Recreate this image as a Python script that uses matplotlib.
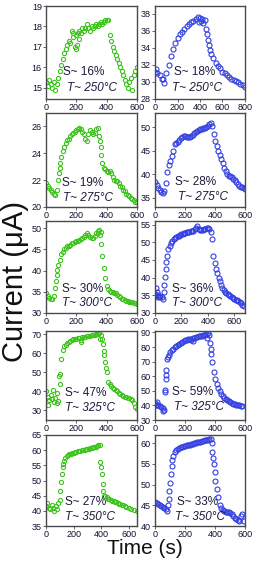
import matplotlib
matplotlib.use('Agg')
import matplotlib.pyplot as plt

plt.rcParams['font.family'] = ['Liberation Sans', 'DejaVu Sans']

GREEN = '#3ec41e'
BLUE = '#3340e0'
TEXT = '#1c1c3c'

# ---- panel data (time in s, current in uA) ----
# 250 C, left
t_250a = [0, 10, 20, 30, 40, 50, 60, 70, 80, 90, 100, 110, 120, 130, 140, 150, 160, 170, 180, 190,
          200, 210, 220, 230, 240, 250, 260, 270, 280, 290, 300, 310, 320, 330, 340, 350, 360, 370,
          380, 390, 400, 410, 420, 430, 440, 450, 460, 470, 480, 490, 500, 510, 520, 530, 540, 550,
          560, 570, 580, 590, 600, 175, 195, 205, 215]
i_250a = [15.3, 15.1, 15.4, 15.2, 15.0, 15.3, 14.9, 15.2, 15.5, 15.8, 16.1, 16.4, 16.7, 16.9, 17.1,
          17.3, 17.2, 17.8, 17.5, 17.0, 17.6, 17.7, 17.8, 17.7, 17.9, 17.8, 17.9, 18.1, 17.9, 17.8,
          18.0, 17.9, 18.0, 18.1, 18.0, 18.1, 18.2, 18.1, 18.2, 18.3, 18.3, 18.3, 17.6, 17.3, 17.0,
          16.8, 16.6, 16.4, 16.2, 16.0, 15.8, 15.6, 15.4, 15.2, 15.0, 15.3, 15.5, 14.9, 15.6, 15.8,
          16.0, 17.7, 16.9, 17.1, 17.4]
# 250 C, right
t_250b = [0, 20, 40, 60, 80, 100, 120, 140, 160, 180, 200, 220, 240, 260, 280, 300, 320, 340, 360,
          380, 400, 420, 440, 460, 480, 500, 520, 540, 560, 580, 600, 620, 640, 660, 680, 700, 720,
          740, 760, 780, 800, 390, 410, 430, 455, 470, 490, 10, 70]
i_250b = [31.2, 31.0, 30.8, 30.4, 29.9, 31.0, 32.0, 33.0, 33.9, 34.6, 35.2, 35.6, 35.9, 36.2, 36.5,
          36.8, 37.0, 37.2, 37.4, 37.6, 37.5, 37.4, 37.3, 35.6, 34.3, 33.3, 32.8, 32.2, 31.9, 31.6,
          31.2, 31.0, 30.8, 30.6, 30.4, 30.2, 30.1, 30.0, 29.8, 29.6, 29.4, 37.0, 37.1, 36.9, 36.2,
          34.9, 33.8, 31.5, 30.3]
# 275 C, left
t_275a = [0, 10, 20, 30, 40, 50, 60, 70, 80, 90, 100, 110, 120, 130, 140, 150, 160, 170, 180, 190,
          200, 210, 220, 230, 240, 250, 260, 270, 280, 290, 300, 310, 320, 330, 340, 350, 360, 370,
          380, 390, 400, 410, 420, 430, 440, 450, 460, 470, 480, 490, 500, 510, 520, 530, 540, 550,
          560, 570, 580, 590, 600, 85, 95, 355, 365]
i_275a = [21.8, 21.6, 21.4, 21.3, 21.1, 21.0, 20.9, 21.3, 22.0, 22.9, 23.7, 24.2, 24.5, 24.8, 25.0,
          25.1, 25.3, 25.4, 25.5, 25.6, 25.7, 25.8, 25.9, 25.8, 25.6, 25.4, 25.1, 24.9, 25.4, 25.7,
          25.6, 25.4, 25.5, 25.8, 25.9, 25.3, 24.5, 23.3, 22.9, 22.8, 22.7, 22.6, 22.7, 22.5, 22.2,
          22.0, 21.9, 21.9, 21.8, 21.6, 21.5, 21.3, 21.2, 21.0, 20.9, 20.8, 20.7, 20.6, 20.5, 20.4,
          20.4, 22.5, 23.3, 24.9, 23.9]
# 275 C, right
t_275b = [0, 10, 20, 30, 40, 50, 60, 70, 80, 90, 100, 110, 120, 130, 140, 150, 160, 170, 180, 190,
          200, 210, 220, 230, 240, 250, 260, 270, 280, 290, 300, 310, 320, 330, 340, 350, 360, 370,
          380, 390, 400, 410, 420, 430, 440, 450, 460, 470, 480, 490, 500, 510, 520, 530, 540, 550,
          560, 570, 580, 590, 600]
i_275b = [38.3, 37.7, 37.1, 36.6, 36.2, 36.0, 36.5, 38.2, 40.5, 42.0, 42.8, 43.8, 45.0, 46.4, 46.7,
          46.9, 47.2, 47.6, 47.9, 48.1, 48.2, 48.0, 47.8, 47.9, 48.1, 48.4, 48.7, 48.9, 49.1, 49.4,
          49.6, 49.7, 49.8, 49.9, 50.0, 50.2, 50.6, 50.9, 50.3, 48.6, 47.0, 46.0, 45.0, 44.1, 43.2,
          42.3, 41.4, 40.6, 40.1, 39.7, 39.5, 39.3, 39.0, 38.7, 38.3, 37.8, 37.5, 37.3, 37.2, 37.0,
          36.8]
# 300 C, left
t_300a = [0, 10, 20, 30, 40, 50, 60, 70, 80, 90, 100, 110, 120, 130, 140, 150, 160, 170, 180, 190,
          200, 210, 220, 230, 240, 250, 260, 270, 280, 290, 300, 310, 320, 330, 340, 350, 360, 370,
          380, 390, 400, 410, 420, 430, 440, 450, 460, 470, 480, 490, 500, 510, 520, 530, 540, 550,
          560, 570, 580, 590, 600, 345, 355, 362, 65, 75]
i_300a = [34.8, 34.0, 33.5, 33.2, 33.2, 33.9, 36.0, 39.0, 41.3, 42.6, 43.8, 44.5, 45.0, 45.4, 45.7,
          45.9, 46.1, 46.4, 46.6, 46.8, 47.0, 47.1, 47.2, 47.4, 47.7, 48.0, 48.4, 48.8, 48.5, 48.0,
          47.7, 47.8, 48.2, 48.8, 49.3, 49.6, 46.2, 43.5, 40.6, 38.3, 36.4, 35.6, 35.2, 35.0, 34.9,
          34.7, 34.6, 34.3, 34.0, 33.7, 33.4, 33.2, 33.0, 32.9, 32.8, 32.7, 32.6, 32.5, 32.4, 32.3,
          32.2, 48.8, 48.5, 49.0, 37.5, 40.2]
# 300 C, right
t_300b = [0, 10, 20, 30, 40, 50, 60, 70, 80, 90, 100, 110, 120, 130, 140, 150, 160, 170, 180, 190,
          200, 210, 220, 230, 240, 250, 260, 270, 280, 290, 300, 310, 320, 330, 340, 350, 360, 370,
          380, 390, 400, 410, 420, 430, 440, 450, 460, 470, 480, 490, 500, 510, 520, 530, 540, 550,
          560, 570, 580, 590, 600, 610, 620, 630, 640, 650, 660, 670, 5, 15, 25, 65, 75, 85]
i_300b = [35.5, 34.8, 34.6, 34.7, 34.5, 34.4, 34.0, 38.0, 42.5, 46.0, 48.0, 49.0, 49.8, 50.4, 50.8,
          51.1, 51.4, 51.7, 51.9, 52.1, 52.3, 52.4, 52.6, 52.7, 52.8, 52.9, 53.0, 53.1, 53.2, 53.3,
          53.6, 54.0, 54.5, 53.8, 53.5, 53.4, 53.5, 53.7, 53.8, 53.9, 53.9, 53.6, 53.0, 50.8, 46.0,
          44.0, 42.5, 41.3, 40.0, 39.0, 38.0, 37.2, 36.5, 36.0, 35.6, 35.3, 35.0, 34.7, 34.5, 34.2,
          34.0, 33.8, 33.6, 33.4, 33.2, 32.8, 32.2, 31.9, 37.0, 36.0, 35.2, 36.0, 40.2, 44.5]
# 325 C, left
t_325a = [0, 10, 20, 30, 40, 50, 60, 70, 80, 90, 95, 100, 110, 120, 130, 140, 150, 160, 170, 180,
          190, 200, 210, 220, 230, 240, 250, 260, 270, 280, 290, 300, 310, 320, 330, 340, 350, 360,
          370, 380, 390, 400, 410, 420, 430, 440, 450, 460, 470, 480, 490, 500, 510, 520, 530, 540,
          550, 560, 570, 580, 590, 600, 15, 45, 75, 85, 375, 385, 395, 230, 355]
i_325a = [40.0, 37.0, 35.5, 38.0, 36.0, 34.5, 36.5, 39.0, 35.0, 44.0, 49.0, 57.0, 61.5, 63.5, 64.5,
          65.3, 66.0, 66.5, 66.8, 67.2, 67.5, 67.3, 67.8, 68.0, 67.0, 68.2, 68.4, 68.6, 68.8, 69.0,
          69.0, 69.3, 69.5, 69.6, 69.8, 70.0, 70.3, 69.5, 67.5, 61.0, 55.5, 50.0, 45.0, 44.0, 43.0,
          42.0, 41.2, 40.6, 40.0, 39.3, 38.8, 38.3, 37.8, 37.3, 37.0, 36.6, 36.3, 36.0, 35.3, 34.0,
          32.0, 30.5, 33.0, 40.5, 34.0, 48.0, 65.0, 59.0, 52.0, 66.0, 67.5]
# 325 C, right
t_325b = [0, 10, 20, 30, 40, 50, 60, 65, 70, 75, 80, 90, 100, 110, 120, 130, 140, 150, 160, 170,
          180, 190, 200, 210, 220, 230, 240, 250, 260, 270, 280, 290, 300, 310, 320, 330, 340, 350,
          360, 365, 370, 375, 380, 390, 400, 410, 420, 430, 440, 450, 460, 470, 480, 490, 500, 510,
          520, 530, 540, 550, 560, 570, 580, 68, 72, 85, 5, 15, 55, 250, 345]
i_325b = [41.5, 40.5, 40.0, 39.5, 39.0, 38.0, 37.0, 49.0, 58.0, 64.0, 72.0, 74.5, 76.5, 78.0, 79.0,
          80.0, 80.8, 81.5, 82.0, 82.8, 83.5, 84.0, 84.5, 85.0, 85.4, 85.8, 85.0, 86.2, 86.5, 86.8,
          87.0, 87.3, 87.6, 87.8, 88.2, 88.5, 88.8, 89.5, 88.0, 83.0, 79.0, 75.0, 70.0, 63.0, 58.0,
          55.0, 52.0, 50.0, 48.0, 46.5, 45.3, 44.3, 43.5, 42.8, 42.0, 41.5, 41.0, 40.7, 40.4, 40.2,
          40.0, 39.8, 39.6, 50.5, 61.0, 73.5, 40.0, 42.0, 36.5, 84.0, 86.5]
# 350 C, left
t_350a = [0, 10, 20, 30, 40, 50, 60, 70, 80, 90, 100, 105, 110, 115, 120, 125, 130, 140, 150, 160,
          170, 180, 190, 200, 210, 220, 230, 240, 250, 260, 270, 280, 290, 300, 310, 320, 330, 340,
          350, 360, 370, 380, 390, 395, 400, 405, 410, 415, 420, 440, 460, 480, 500, 520, 540, 560,
          580, 600, 620, 640, 660, 430, 450, 470, 490, 510, 530, 550, 570]
i_350a = [41.5, 42.5, 41.0, 40.5, 42.0, 41.0, 40.0, 41.5, 40.5, 42.5, 43.5, 46.5, 49.5, 52.0, 54.5,
          55.5, 56.5, 57.5, 58.0, 58.4, 58.7, 58.9, 59.1, 59.2, 59.4, 59.5, 59.6, 59.7, 59.8, 59.9,
          60.0, 60.1, 60.3, 60.4, 60.5, 60.7, 60.8, 60.9, 61.1, 61.2, 61.4, 61.6, 61.7, 56.0, 54.5,
          52.0, 49.0, 46.5, 45.0, 44.4, 43.9, 43.4, 43.0, 42.6, 42.2, 41.8, 41.4, 41.0, 40.6, 40.2,
          39.8, 44.8, 44.0, 43.7, 43.2, 42.8, 42.4, 42.0, 41.6]
# 350 C, right
t_350b = [0, 10, 20, 30, 40, 50, 60, 70, 80, 85, 90, 95, 100, 105, 110, 115, 120, 130, 140, 150,
          160, 170, 180, 190, 200, 210, 220, 230, 240, 250, 260, 270, 280, 290, 300, 310, 320, 330,
          340, 350, 360, 370, 378, 383, 388, 393, 398, 403, 410, 420, 430, 440, 450, 460, 470, 480,
          490, 500, 510, 520, 530, 540, 550, 560, 570, 580, 590]
i_350b = [45.7, 45.5, 45.3, 45.1, 44.9, 44.6, 44.3, 44.0, 43.6, 45.0, 46.5, 48.5, 50.5, 52.5, 54.5,
          56.0, 57.0, 57.8, 58.3, 58.6, 58.8, 59.0, 59.2, 59.3, 59.4, 59.5, 59.6, 59.7, 59.8, 59.9,
          60.0, 60.1, 60.2, 60.3, 60.4, 60.5, 60.6, 60.7, 60.8, 60.9, 61.0, 61.1, 60.0, 58.0, 56.5,
          55.0, 53.0, 51.0, 49.0, 47.0, 45.0, 44.3, 43.9, 43.6, 43.5, 43.4, 43.3, 43.2, 43.0, 42.5,
          42.0, 41.7, 41.5, 41.3, 42.5, 42.8, 41.2]

s_labels = ['S~ 16%', 'S~ 18%', 'S~ 19%', 'S~ 28%', 'S~ 30%',
            'S~ 36%', 'S~ 47%', 'S~ 59%', 'S~ 27%', 'S~ 33%']
temps = ['250', '250', '275', '275', '300', '300', '325', '325', '350', '350']

panels = [
    (t_250a, i_250a, GREEN, (0, 600), (14.45, 19), [0, 200, 400, 600], [15, 16, 17, 18, 19]),
    (t_250b, i_250b, BLUE, (0, 800), (28, 38.9), [0, 200, 400, 600, 800], [28, 30, 32, 34, 36, 38]),
    (t_275a, i_275a, GREEN, (0, 600), (20, 27), [0, 200, 400, 600], [20, 22, 24, 26]),
    (t_275b, i_275b, BLUE, (0, 600), (33, 53), [0, 200, 400, 600], [35, 40, 45, 50]),
    (t_300a, i_300a, GREEN, (0, 600), (30, 51.7), [0, 200, 400, 600], [30, 35, 40, 45, 50]),
    (t_300b, i_300b, BLUE, (0, 680), (30, 56), [0, 200, 400, 600], [30, 35, 40, 45, 50, 55]),
    (t_325a, i_325a, GREEN, (0, 600), (25, 71.6), [0, 200, 400, 600], [30, 40, 50, 60, 70]),
    (t_325b, i_325b, BLUE, (0, 600), (30, 91), [0, 200, 400, 600], [30, 40, 50, 60, 70, 80, 90]),
    (t_350a, i_350a, GREEN, (0, 660), (35, 65), [0, 200, 400, 600], [35, 40, 45, 50, 55, 60, 65]),
    (t_350b, i_350b, BLUE, (0, 600), (40, 62), [0, 200, 400, 600], [40, 45, 50, 55, 60]),
]

# text positions (axes fraction) for S and T labels
s_pos = [(0.19, 0.29), (0.21, 0.29), (0.18, 0.25), (0.22, 0.27), (0.18, 0.26),
         (0.19, 0.26), (0.21, 0.30), (0.19, 0.31), (0.21, 0.26), (0.24, 0.26)]
t_pos = [(0.23, 0.12), (0.19, 0.12), (0.19, 0.10), (0.25, 0.11), (0.18, 0.11),
         (0.19, 0.11), (0.21, 0.13), (0.21, 0.15), (0.21, 0.10), (0.22, 0.10)]

W, H = 257, 564
fig = plt.figure(figsize=(W / 100, H / 100), dpi=100)

col_x = [(46, 137), (155, 245)]
row_y = [(6, 99), (113, 207), (221, 313), (331, 420), (435, 526)]

for k, (t, cur, col, xl, yl, xt, yt) in enumerate(panels):
    r, c = divmod(k, 2)
    x0, x1 = col_x[c]
    y0, y1 = row_y[r]
    ax = fig.add_axes([x0 / W, 1 - y1 / H, (x1 - x0) / W, (y1 - y0) / H])
    ms = 3.0 if col == GREEN else 3.6
    ax.plot(t, cur, 'o', mfc='none', mec=col, ms=ms, mew=0.8, ls='none')
    ax.set_xlim(*xl)
    ax.set_ylim(*yl)
    ax.set_xticks(xt)
    ax.set_yticks(yt)
    for sp in ax.spines.values():
        sp.set_color('#4a4a4a')
        sp.set_linewidth(1.0)
    ax.tick_params(direction='out', length=2, width=0.6, pad=1, labelsize=6.5,
                   colors='#4a4a4a', labelcolor='#101030')
    ax.text(s_pos[k][0], s_pos[k][1], s_labels[k], transform=ax.transAxes,
            fontsize=8.5, color=TEXT, va='center', ha='left')
    ax.text(t_pos[k][0], t_pos[k][1], 'T~ ' + temps[k] + '°C', transform=ax.transAxes,
            fontsize=8.5, color=TEXT, va='center', ha='left', style='italic')

fig.text(15 / W, 1 - 281 / H, 'Current (μA)', rotation=90, ha='center', va='center',
         fontsize=21, color='#111111')
fig.text(145 / W, 1 - 548 / H, 'Time (s)', ha='center', va='center',
         fontsize=15, color='#111111')

fig.savefig('out.png', dpi=100)
